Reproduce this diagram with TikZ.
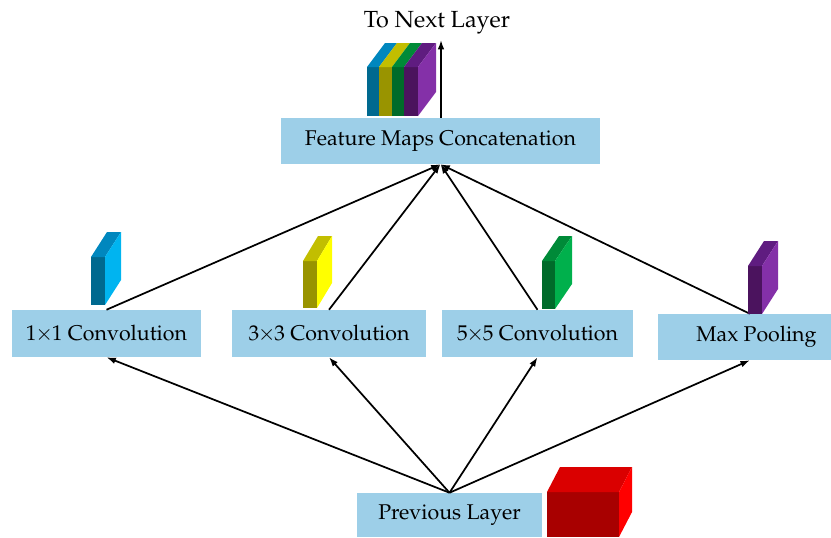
\documentclass[tikz,border=0pt]{standalone}
\usepackage[T1]{fontenc}
\usepackage{mathpazo}
\usepackage{xcolor}
\usepackage{tikz}
\usetikzlibrary{arrows.meta}

\definecolor{boxblue}{HTML}{9DCFE8}
\definecolor{bluefront}{HTML}{00698F}
\definecolor{blueside}{HTML}{00B4F0}
\definecolor{bluetop}{HTML}{0087BE}
\definecolor{yelfront}{HTML}{999400}
\definecolor{yelside}{HTML}{FFFF00}
\definecolor{yeltop}{HTML}{C2BE00}
\definecolor{grnfront}{HTML}{006B2A}
\definecolor{grnside}{HTML}{00B04C}
\definecolor{grntop}{HTML}{008A38}
\definecolor{purfront}{HTML}{4B135E}
\definecolor{purside}{HTML}{8430A8}
\definecolor{purtop}{HTML}{5F1C80}
\definecolor{redfront}{HTML}{A80000}
\definecolor{redside}{HTML}{FF0000}
\definecolor{redtop}{HTML}{DA0000}

\tikzset{
  layerbox/.style={fill=boxblue, inner sep=0pt, font=\fontsize{16}{19}\selectfont},
  flow/.style={line width=1.3pt, -{Latex[length=7pt,width=5pt]}},
}

\begin{document}
\begin{tikzpicture}[x=0.75pt,y=0.75pt,yscale=-1,xscale=1]
\useasboundingbox (0,0) rectangle (831,537);

% Text Node
\node [layerbox, minimum width=319*0.75pt, minimum height=46*0.75pt] (concat) at (440.5,141) {Feature Maps Concatenation};
% Text Node
\node [layerbox, minimum width=189*0.75pt, minimum height=47*0.75pt] (conv1) at (106.5,333.5) {1\kern-1pt$\times$\kern-1pt1 Convolution};
% Text Node
\node [layerbox, minimum width=194*0.75pt, minimum height=47*0.75pt] (conv3) at (329,333.5) {3\kern-1pt$\times$\kern-1pt3 Convolution};
% Text Node
\node [layerbox, minimum width=191*0.75pt, minimum height=47*0.75pt] (conv5) at (537.5,333.5) {5\kern-1pt$\times$\kern-1pt5 Convolution};
% Text Node
\node [layerbox, minimum width=173*0.75pt, minimum height=46*0.75pt] (pool) at (744.5,337) {\hspace{18pt}Max Pooling};
% Text Node
\node [layerbox, minimum width=185*0.75pt, minimum height=44*0.75pt] (prev) at (449.5,515) {Previous Layer\hspace{12pt}};
% Text Node
\node [font=\fontsize{17.5}{20}\selectfont, inner sep=0pt] (nexttxt) at (437,23) {To Next Layer};
\coordinate (next) at (441,40);

%Output Arrow
\draw [flow] (concat.north -| next) -- (next);

%Branch Lines [into concatenation]
\draw [flow] (conv1.north) -- (concat.south);
\draw [flow] (conv3.north) -- (concat.south);
\draw [flow] (conv5.north) -- (concat.south);
\draw [flow] ([xshift=4pt]pool.north) -- (concat.south);

%Input Lines [from previous layer]
\draw [flow] (prev.north) -- (conv1.south);
\draw [flow] (prev.north) -- (conv3.south);
\draw [flow] (prev.north) -- (conv5.south);
\draw [flow] (prev.north) -- ([xshift=4pt]pool.south);

%Shape: Cube [blue]
\fill [bluefront] (91,257) rectangle (105,305);
\fill [bluetop] (91,257) -- (105,257) -- (121,232) -- (107,232) -- cycle;
\fill [blueside] (105,257) -- (121,232) -- (121,280) -- (105,305) -- cycle;
%Shape: Cube [yellow]
\fill [yelfront] (303,261) rectangle (317,308);
\fill [yeltop] (303,261) -- (317,261) -- (332,236) -- (318,236) -- cycle;
\fill [yelside] (317,261) -- (332,236) -- (332,283) -- (317,308) -- cycle;
%Shape: Cube [green]
\fill [grnfront] (542,261) rectangle (555,309);
\fill [grntop] (542,261) -- (555,261) -- (572,236) -- (559,236) -- cycle;
\fill [grnside] (555,261) -- (572,236) -- (572,284) -- (555,309) -- cycle;
%Shape: Cube [purple]
\fill [purfront] (748,266) rectangle (762,314);
\fill [purtop] (748,266) -- (762,266) -- (778,241) -- (764,241) -- cycle;
\fill [purside] (762,266) -- (778,241) -- (778,289) -- (762,314) -- cycle;
%Shape: Cube [red]
\fill [redfront] (547,492) rectangle (619,537);
\fill [redtop] (547,492) -- (619,492) -- (632,467) -- (560,467) -- cycle;
\fill [redside] (619,492) -- (632,467) -- (632,512) -- (619,537) -- cycle;

%Shape: Cube [stacked maps]
\fill [bluefront] (367,67) rectangle (379,116);
\fill [yelfront] (379,67) rectangle (392,116);
\fill [grnfront] (392,67) rectangle (404,116);
\fill [purfront] (404,67) rectangle (418,116);
\fill [bluetop] (367,67) -- (379,67) -- (397,43) -- (385,43) -- cycle;
\fill [yeltop] (379,67) -- (392,67) -- (410,43) -- (397,43) -- cycle;
\fill [grntop] (392,67) -- (404,67) -- (422,43) -- (410,43) -- cycle;
\fill [purtop] (404,67) -- (418,67) -- (436,43) -- (422,43) -- cycle;
\fill [purside] (418,67) -- (436,43) -- (436,92) -- (418,116) -- cycle;

\end{tikzpicture}
\end{document}
